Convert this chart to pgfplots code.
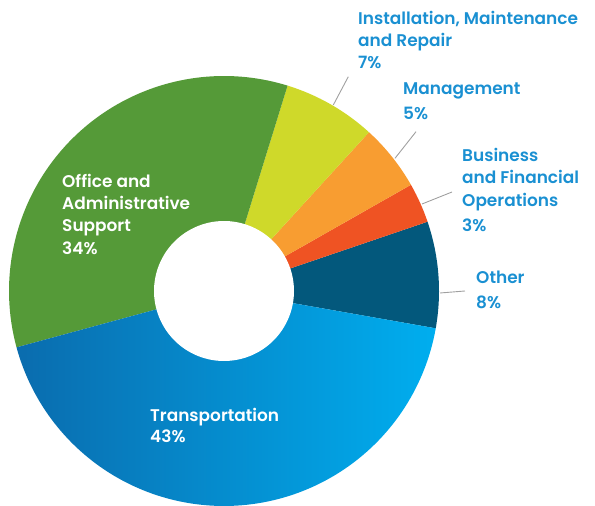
\documentclass[border=0pt]{standalone}
\usepackage{pgfplots}
\pgfplotsset{compat=1.18}
\usepackage{fontspec}
\setmainfont{Poppins}[BoldFont={Poppins SemiBold}]
\definecolor{cGreen}{HTML}{559A38}
\definecolor{cYellow}{HTML}{CFD92A}
\definecolor{cOrange}{HTML}{F89D31}
\definecolor{cRed}{HTML}{EF5323}
\definecolor{cNavy}{HTML}{03587C}
\definecolor{cTransL}{HTML}{0A6CAE}
\definecolor{cTransR}{HTML}{00AEEF}
\definecolor{cLabel}{HTML}{1A90D2}
\definecolor{cLeader}{HTML}{A0A0A0}
\newcommand{\lbl}{\fontsize{17}{20}\selectfont\bfseries}
% shares (percent)
\def\pOther{8}
\def\pBusiness{3}
\def\pManagement{5}
\def\pInstall{7}
\def\pOffice{34}
\def\pTransport{43}
\begin{document}
\begin{tikzpicture}
\pgfmathsetmacro{\aA}{-10}
\pgfmathsetmacro{\aB}{\aA+3.6*\pOther}
\pgfmathsetmacro{\aC}{\aB+3.6*\pBusiness}
\pgfmathsetmacro{\aD}{\aC+3.6*\pManagement}
\pgfmathsetmacro{\aE}{\aD+3.6*\pInstall}
\pgfmathsetmacro{\aF}{\aE+3.6*\pOffice}
\pgfmathsetmacro{\aG}{\aF+3.6*\pTransport}
\begin{axis}[x=1bp, y=1bp, scale only axis, xmin=0, xmax=595, ymin=0, ymax=506,
  hide axis, clip=false]
% invisible frame fixing the picture size
\addplot[draw=none, fill=none] coordinates {(0,0) (595,506)};
\addplot[draw=none, fill=cNavy, domain=\aA:\aB, samples=30] ({224+215*cos(x)},{215+215*sin(x)}) -- (axis cs:224,215) -- cycle;
\addplot[draw=none, fill=cRed, domain=\aB:\aC, samples=20] ({224+215*cos(x)},{215+215*sin(x)}) -- (axis cs:224,215) -- cycle;
\addplot[draw=none, fill=cOrange, domain=\aC:\aD, samples=20] ({224+215*cos(x)},{215+215*sin(x)}) -- (axis cs:224,215) -- cycle;
\addplot[draw=none, fill=cYellow, domain=\aD:\aE, samples=30] ({224+215*cos(x)},{215+215*sin(x)}) -- (axis cs:224,215) -- cycle;
\addplot[draw=none, fill=cGreen, domain=\aE:\aF, samples=90] ({224+215*cos(x)},{215+215*sin(x)}) -- (axis cs:224,215) -- cycle;
\addplot[draw=none, left color=cTransL, right color=cTransR, domain=\aF:\aG, samples=110] ({224+215*cos(x)},{215+215*sin(x)}) -- (axis cs:224,215) -- cycle;
\addplot[draw=none, fill=white, domain=0:360, samples=120] ({224+70*cos(x)},{215+70*sin(x)}) -- cycle;
% leader lines
\addplot[cLeader, line width=0.9pt] coordinates {(333.3,401) (348.3,429.3)};
\addplot[cLeader, line width=0.9pt] coordinates {(395,347.7) (416,374.3)};
\addplot[cLeader, line width=0.9pt] coordinates {(422,302) (452,314)};
\addplot[cLeader, line width=0.9pt] coordinates {(440,213) (465,215)};
% outside labels
\begin{scope}[every node/.style={anchor=base west, inner sep=0pt, font=\lbl, text=cLabel}]
\node at (axis cs:358,481) {Installation, Maintenance};
\node at (axis cs:358,459) {and Repair};
\node at (axis cs:358,437) {7\%};
\node at (axis cs:403,411) {Management};
\node at (axis cs:403,386) {5\%};
\node at (axis cs:462,344) {Business};
\node at (axis cs:462,322) {and Financial};
\node at (axis cs:462,299) {Operations};
\node at (axis cs:462,274) {3\%};
\node at (axis cs:476,222) {Other};
\node at (axis cs:476,197) {8\%};
\end{scope}
\begin{scope}[every node/.style={anchor=base west, inner sep=0pt, font=\lbl, text=white}]
\node at (axis cs:62,318) {Office and};
\node at (axis cs:62,296) {Administrative};
\node at (axis cs:62,274) {Support};
\node at (axis cs:62,251) {34\%};
\node at (axis cs:150,84) {Transportation};
\node at (axis cs:150,63) {43\%};
\end{scope}
\end{axis}
\end{tikzpicture}
\end{document}
